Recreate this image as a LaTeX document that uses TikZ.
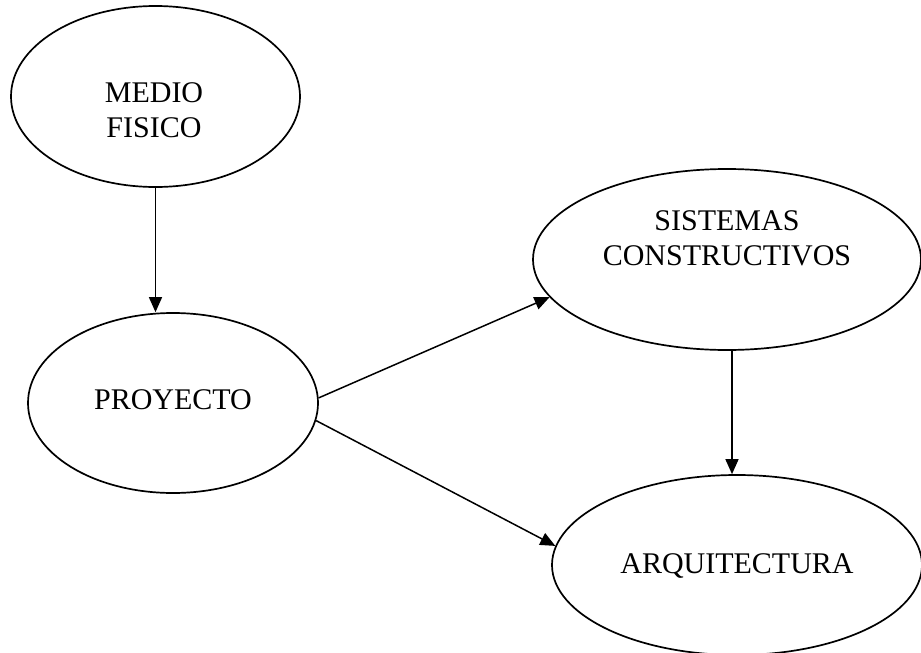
\documentclass[tikz,border=0pt]{standalone}
\usepackage{fontspec}
\setmainfont{Liberation Serif}
\usetikzlibrary{shapes.geometric,arrows.meta}
\begin{document}
\begin{tikzpicture}[x=1pt,y=-1pt,
  oval/.style={draw,ellipse,line width=1.7pt,inner sep=0pt},
  lbl/.style={inner sep=0pt,align=center,font=\fontsize{30}{35}\selectfont},
  arr/.style={line width=1.5pt,-{Triangle[length=15pt,width=13pt]}}]
\useasboundingbox (0,0) rectangle (921,653);
\node[oval,minimum width=289pt,minimum height=181pt] (medio) at (155.5,96.5) {};
\node[oval,minimum width=290pt,minimum height=180pt] (proy) at (173,403) {};
\node[oval,minimum width=388pt,minimum height=181pt] (sist) at (727,259.5) {};
\node[oval,minimum width=370pt,minimum height=180pt] (arq) at (737,565) {};
\node[lbl] (tmedio) at (154,110) {MEDIO\\FISICO};
\node[lbl,anchor=base] (tproy) at (173,409) {PROYECTO};
\node[lbl] (tsist) at (727,238.5) {SISTEMAS\\CONSTRUCTIVOS};
\node[lbl,anchor=base] (tarq) at (737,573) {ARQUITECTURA};
\draw[arr] (medio.south) -- (medio.south |- proy.north);
\draw[arr] (proy.2) -- (sist.192);
\draw[arr] (proy.-7.5) -- (arq.174.7);
\draw[arr] ([xshift=5pt]sist.south) -- ([xshift=5pt]sist.south |- arq.north);
\end{tikzpicture}
\end{document}
